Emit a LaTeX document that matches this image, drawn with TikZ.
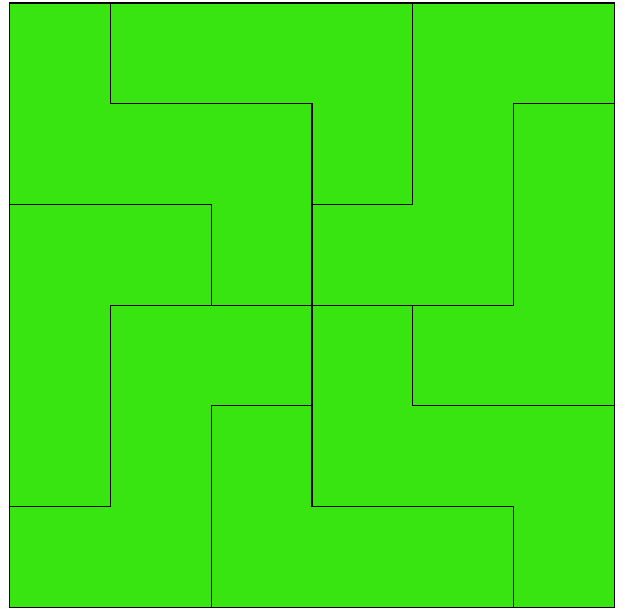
\documentclass[tikz,border=0pt]{standalone}
\usepackage{tikz}

\definecolor{tilegreen}{RGB}{56,229,16}

\begin{document}
\begin{tikzpicture}[
  x=1cm, y=1cm,
  piece/.style={fill=tilegreen, draw=black, line width=0.3pt, line join=miter}
]
\useasboundingbox (-0.099,-0.010) rectangle (6.109,6.030);
% top row pieces
\draw[piece] (0,6) -- (1,6) -- (1,5) -- (3,5) -- (3,3) -- (2,3) -- (2,4) -- (0,4) -- cycle;
\draw[piece] (1,6) -- (4,6) -- (4,4) -- (3,4) -- (3,5) -- (1,5) -- cycle;
\draw[piece] (4,6) -- (6,6) -- (6,5) -- (5,5) -- (5,3) -- (3,3) -- (3,4) -- (4,4) -- cycle;
\draw[piece] (5,5) -- (6,5) -- (6,2) -- (4,2) -- (4,3) -- (5,3) -- cycle;
% bottom row pieces
\draw[piece] (0,4) -- (2,4) -- (2,3) -- (1,3) -- (1,1) -- (0,1) -- cycle;
\draw[piece] (1,3) -- (3,3) -- (3,2) -- (2,2) -- (2,0) -- (0,0) -- (0,1) -- (1,1) -- cycle;
\draw[piece] (2,2) -- (3,2) -- (3,1) -- (5,1) -- (5,0) -- (2,0) -- cycle;
\draw[piece] (3,3) -- (4,3) -- (4,2) -- (6,2) -- (6,0) -- (5,0) -- (5,1) -- (3,1) -- cycle;
\end{tikzpicture}
\end{document}
